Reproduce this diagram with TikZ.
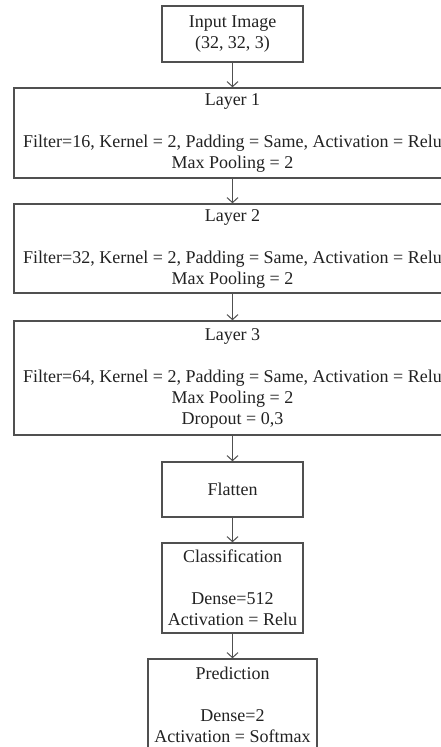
\documentclass[tikz,border=0pt]{standalone}
\usepackage{fontspec}
\setmainfont{Liberation Serif}
\usetikzlibrary{arrows.meta}
\definecolor{boxline}{HTML}{505050}
\definecolor{txt}{HTML}{222222}
\tikzset{
  box/.style={draw=boxline, line width=1.5pt, inner sep=0pt, align=center,
    text=txt, font=\fontsize{18}{21}\selectfont},
  conn/.style={draw=boxline, line width=1.3pt, -{Straight Barb[length=5pt,width=11pt,line width=1pt]}}
}
\begin{document}
\begin{tikzpicture}[x=1pt,y=-1pt]
\useasboundingbox (0,0) rectangle (441,747);
\clip (0,0) rectangle (441,747);
\fill[white] (0,0) rectangle (441,747);
\node[box, minimum width=141pt, minimum height=56pt] (in) at (232.5,34) {Input Image\\(32, 32, 3)};
\node[box, minimum width=437pt, minimum height=90pt] (l1) at (232.5,133) {Layer 1\\[21pt]Filter=16, Kernel = 2, Padding = Same, Activation = Relu\\Max Pooling = 2};
\node[box, minimum width=437pt, minimum height=89pt] (l2) at (232.5,248.5) {Layer 2\\[21pt]Filter=32, Kernel = 2, Padding = Same, Activation = Relu\\Max Pooling = 2};
\node[box, minimum width=437pt, minimum height=114pt] (l3) at (232.5,378) {Layer 3\\[21pt]Filter=64, Kernel = 2, Padding = Same, Activation = Relu\\Max Pooling = 2\\Dropout = 0,3};
\node[box, minimum width=141pt, minimum height=55pt] (fl) at (232.5,489.5) {Flatten};
\node[box, minimum width=141pt, minimum height=90pt] (cl) at (232.5,588) {Classification\\[21pt]Dense=512\\Activation = Relu};
\node[box, minimum width=169pt, minimum height=92pt] (pr) at (232.5,705) {Prediction\\[21pt]Dense=2\\Activation = Softmax};
\draw[conn] (in) -- (l1);
\draw[conn] (l1) -- (l2);
\draw[conn] (l2) -- (l3);
\draw[conn] (l3) -- (fl);
\draw[conn] (fl) -- (cl);
\draw[conn] (cl) -- (pr);
\end{tikzpicture}
\end{document}
